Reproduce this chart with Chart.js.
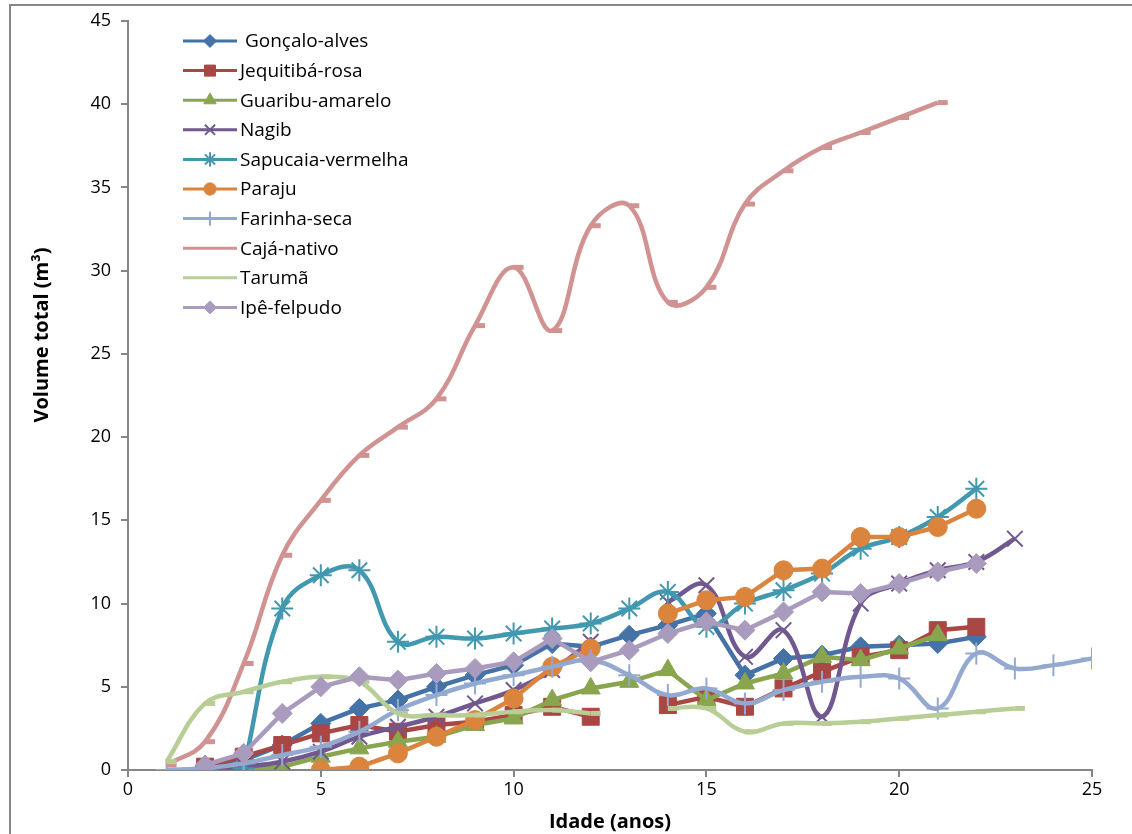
<!DOCTYPE html>
<html lang="pt">
<head>
    <meta charset="UTF-8">
    <title>Volume total por idade</title>
    <script src="https://cdn.jsdelivr.net/npm/chart.js"></script>
    <style>
        body {
            margin: 0;
            background: #ffffff;
            font-family: 'Open Sans', sans-serif;
        }
        .chart-box {
            position: relative;
            width: 1132px;
            height: 834px;
        }
    </style>
</head>
<body>
    <div class="chart-box">
        <canvas id="volChart"></canvas>
    </div>
<script>
    // idades (anos)
    const ages = [1, 2, 3, 4, 5, 6, 7, 8, 9, 10, 11, 12, 13, 14, 15, 16, 17, 18, 19, 20, 21, 22, 23, 24, 25];

    // volume total (m³) por espécie, um valor por idade (null = sem dado)
    const goncaloAlves = [null, 0.2, 0.6, 1.5, 2.8, 3.7, 4.2, 5.0, 5.7, 6.3, 7.6, 7.4, 8.1, 8.7, 9.4, 5.7, 6.7, 6.9, 7.4, 7.5, 7.6, 8.0, null, null, null];
    const jequitibaRosa = [null, 0.2, 0.8, 1.5, 2.2, 2.7, 2.3, 2.7, 2.9, 3.3, 3.8, 3.2, null, 3.9, 4.4, 3.8, 4.9, 5.9, 6.8, 7.2, 8.4, 8.6, null, null, null];
    const guaribuAmarelo = [null, 0, 0, 0.2, 0.8, 1.3, 1.7, 2.0, 2.7, 3.1, 4.2, 4.9, 5.3, 6.0, 4.2, 5.2, 5.8, 6.8, 6.6, 7.3, 8.1, null, null, null, null];
    const nagib = [null, 0, 0.2, 0.5, 1.1, 2.0, 2.6, 3.2, 4.0, 4.8, 6.0, 7.7, null, 10.1, 11.1, 6.8, 8.4, 3.2, 10.0, 11.2, 12.0, 12.5, 13.9, null, null];
    const sapucaiaVermelha = [null, null, 0.1, 9.7, 11.7, 12.0, 7.7, 8.0, 7.9, 8.2, 8.5, 8.8, 9.7, 10.7, 8.6, 10.0, 10.8, 11.8, 13.3, 14.0, 15.2, 16.9, null, null, null];
    const paraju = [null, null, null, null, 0, 0.2, 1.0, 2.0, 3.0, 4.3, 6.2, 7.3, null, 9.4, 10.2, 10.4, 12.0, 12.1, 14.0, 14.0, 14.6, 15.7, null, null, null];
    const farinhaSeca = [0, 0.1, 0.4, 0.9, 1.4, 2.3, 3.6, 4.5, 5.2, 5.7, 6.2, 6.6, 5.7, 4.5, 4.9, 4.0, 4.8, 5.3, 5.6, 5.5, 3.7, 7.0, 6.1, 6.3, 6.7];
    const cajaNativo = [0.3, 1.7, 6.4, 12.9, 16.2, 18.9, 20.6, 22.3, 26.7, 30.2, 26.4, 32.7, 33.9, 28.1, 29.0, 34.0, 36.0, 37.4, 38.3, 39.2, 40.1, null, null, null, null];
    const taruma = [0.5, 4.0, 4.7, 5.3, 5.6, 5.3, 3.4, 3.3, 3.3, 3.5, 3.6, 3.4, null, 3.7, 3.7, 2.3, 2.8, 2.8, 2.9, 3.1, 3.3, 3.5, 3.7, null, null];
    const ipeFelpudo = [null, 0.3, 1.0, 3.4, 5.0, 5.6, 5.4, 5.8, 6.1, 6.5, 7.9, 6.5, 7.2, 8.2, 8.9, 8.4, 9.5, 10.7, 10.6, 11.2, 11.9, 12.4, null, null, null];

    const xTicks = [0, 5, 10, 15, 20, 25];
    const yTicks = [0, 5, 10, 15, 20, 25, 30, 35, 40, 45];

    // monta pontos {x, y}; ignora idades antes/depois da série, mantém null no meio (quebra a linha)
    function toPoints(values) {
        let first = values.findIndex(v => v !== null);
        let last = values.length - 1;
        while (last >= 0 && values[last] === null) last--;
        let pts = [];
        for (let i = first; i <= last; i++) {
            pts.push({ x: ages[i], y: values[i] });
        }
        return pts;
    }

    function serie(label, values, color, style, radius, bw, smooth) {
        return {
            label: label,
            data: toPoints(values),
            borderColor: color,
            backgroundColor: color,
            borderWidth: 4.5,
            pointStyle: style,
            pointRadius: radius,
            pointHoverRadius: radius,
            pointBackgroundColor: color,
            pointBorderColor: color,
            pointBorderWidth: bw,
            tension: smooth ? 0.4 : 0,
            spanGaps: false,
            fill: false
        };
    }

    const datasets = [
        serie(' Gonçalo-alves', goncaloAlves, '#4572A7', 'rectRot', 10, 1, false),
        serie('Jequitibá-rosa', jequitibaRosa, '#AA4643', 'rect', 12, 1, false),
        serie('Guaribu-amarelo', guaribuAmarelo, '#89A54E', 'triangle', 11, 1, false),
        serie('Nagib', nagib, '#71588F', 'crossRot', 11, 2, true),
        serie('Sapucaia-vermelha', sapucaiaVermelha, '#4198AF', 'star', 11, 2, true),
        serie('Paraju', paraju, '#DB843D', 'circle', 9.5, 1, false),
        serie('Farinha-seca', farinhaSeca, '#93A9CF', 'cross', 11, 2, true),
        serie('Cajá-nativo', cajaNativo, '#D19392', 'dash', 10, 5, true),
        serie('Tarumã', taruma, '#B9CD96', 'dash', 10, 5, true),
        serie('Ipê-felpudo', ipeFelpudo, '#A99BBD', 'rectRot', 10, 1, false)
    ];
    // séries posteriores desenhadas por cima (como no Excel)
    datasets.forEach((d, i) => { d.order = datasets.length - i; });

    // legenda dentro da área do gráfico, canto superior esquerdo
    const innerLegend = {
        id: 'innerLegend',
        afterDraw(chart) {
            const ctx = chart.ctx;
            const drawPoint = Chart.helpers && Chart.helpers.drawPoint;
            ctx.save();
            chart.data.datasets.forEach((ds, i) => {
                const y = 41 + i * 29.6;
                ctx.strokeStyle = ds.borderColor;
                ctx.lineWidth = 3;
                ctx.beginPath();
                ctx.moveTo(183, y);
                ctx.lineTo(237, y);
                ctx.stroke();
                if (drawPoint && ds.pointStyle !== 'dash') {
                    ctx.fillStyle = ds.pointBackgroundColor;
                    ctx.strokeStyle = ds.pointBorderColor;
                    ctx.lineWidth = ds.pointBorderWidth;
                    drawPoint(ctx, {
                        pointStyle: ds.pointStyle,
                        radius: ds.pointRadius * 0.65,
                        rotation: 0,
                        borderWidth: ds.pointBorderWidth
                    }, 210, y);
                }
                ctx.fillStyle = '#000000';
                ctx.font = '19px "Open Sans", sans-serif';
                ctx.textBaseline = 'middle';
                ctx.textAlign = 'left';
                ctx.fillText(ds.label, 240, y + 1);
            });
            ctx.restore();
        }
    };

    // título do eixo Y e moldura externa
    const frameAndTitle = {
        id: 'frameAndTitle',
        afterDraw(chart) {
            const ctx = chart.ctx;
            ctx.save();
            ctx.strokeStyle = '#868686';
            ctx.lineWidth = 2;
            ctx.strokeRect(10, 5, 1130, 840);
            ctx.translate(42, 335);
            ctx.rotate(-Math.PI / 2);
            ctx.fillStyle = '#000000';
            ctx.font = 'bold 20px "Open Sans", sans-serif';
            ctx.textAlign = 'center';
            ctx.textBaseline = 'middle';
            ctx.fillText('Volume total (m³)', 0, 0);
            ctx.restore();
        }
    };

    const ctx = document.getElementById('volChart').getContext('2d');
    new Chart(ctx, {
        type: 'line',
        data: { datasets: datasets },
        options: {
            responsive: true,
            maintainAspectRatio: false,
            animation: false,
            layout: {
                padding: { top: 21, right: 40, left: 0, bottom: 0 }
            },
            plugins: {
                legend: { display: false },
                tooltip: { enabled: false }
            },
            scales: {
                x: {
                    type: 'linear',
                    min: 0,
                    max: 25,
                    afterFit(scale) { scale.height = 64; },
                    afterBuildTicks(scale) { scale.ticks = xTicks.map(v => ({ value: v })); },
                    grid: { drawOnChartArea: false, drawTicks: true, tickLength: 7, color: '#868686', lineWidth: 2 },
                    border: { color: '#868686', width: 2 },
                    ticks: {
                        color: '#000000',
                        font: { family: 'Open Sans', size: 18 },
                        padding: 2,
                        maxRotation: 0
                    },
                    title: {
                        display: true,
                        text: 'Idade (anos)',
                        color: '#000000',
                        font: { family: 'Open Sans', size: 20, weight: 'bold' },
                        padding: { top: 0, bottom: 0 }
                    }
                },
                y: {
                    type: 'linear',
                    min: 0,
                    max: 45,
                    afterFit(scale) { scale.width = 128; },
                    afterBuildTicks(scale) { scale.ticks = yTicks.map(v => ({ value: v })); },
                    grid: { drawOnChartArea: false, drawTicks: true, tickLength: 7, color: '#868686', lineWidth: 2 },
                    border: { color: '#868686', width: 2 },
                    ticks: {
                        color: '#000000',
                        font: { family: 'Open Sans', size: 18 },
                        padding: 10
                    }
                }
            }
        },
        plugins: [innerLegend, frameAndTitle]
    });
</script>
</body>
</html>
